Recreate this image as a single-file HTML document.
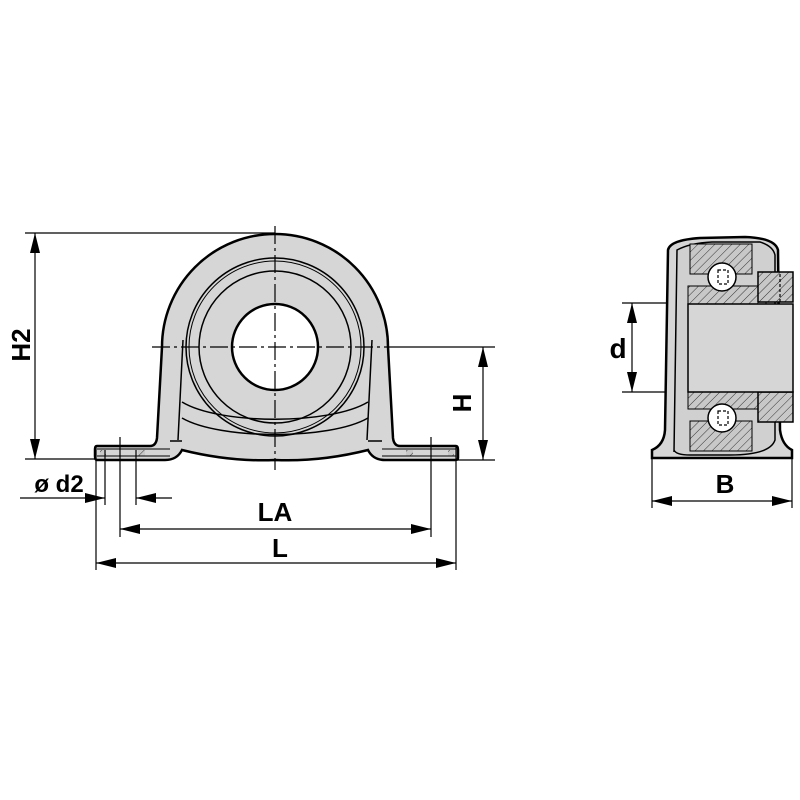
<!DOCTYPE html>
<html><head><style>html,body{margin:0;padding:0;background:#fff}svg{display:block}</style></head>
<body>
<svg width="800" height="800" viewBox="0 0 800 800" xmlns="http://www.w3.org/2000/svg" font-family="Liberation Sans, sans-serif" font-weight="bold">
<defs>
<pattern id="h" width="6" height="6" patternUnits="userSpaceOnUse" patternTransform="rotate(45)"><rect width="6" height="6" fill="#c8c8c8"/><line x1="0" y1="0" x2="0" y2="6" stroke="#333" stroke-width="1"/></pattern>
</defs>
<g stroke="#000" fill="#d6d6d6">
<path d="M97,446 L150,446 Q156,446 157,438 L162,347 A113,113 0 0 1 388,347 L393,438 Q394,446 400,446 L456,446 Q458,446 458,450 L458,458 Q458,460 455,460 L385,460 Q373,460 368,450 Q320,462 275,460 Q230,462 182,450 Q177,460 165,460 L97,460 Q95,460 95,456 L95,449 Q95,446 97,446Z" stroke-width="2.5"/>
<path d="M178,440 L183,340 M372,340 L367,440" fill="none" stroke-width="1.5"/>
<path d="M182,402 C220,425 330,425 368,402" fill="none" stroke-width="1.5"/>
<path d="M182,418 C220,440 330,440 368,418" fill="none" stroke-width="1.5"/>
<path d="M170,441 L182,441 M368,441 L382,441" fill="none" stroke-width="1.5"/>
<circle cx="275" cy="347" r="89" fill="none" stroke-width="1.5"/>
<circle cx="275" cy="347" r="86" fill="none" stroke-width="1"/>
<circle cx="275" cy="347" r="76" fill="none" stroke-width="1.5"/>
<circle cx="275" cy="347" r="43" fill="#fff" stroke-width="2.5"/>
<rect x="100" y="450" width="6" height="6" fill="url(#h)" stroke="none"/>
<rect x="138" y="450" width="7" height="6" fill="url(#h)" stroke="none"/>
<rect x="406" y="450" width="7" height="6" fill="url(#h)" stroke="none"/>
<rect x="448" y="450" width="6" height="6" fill="url(#h)" stroke="none"/>
<line x1="97" y1="449" x2="170" y2="449" stroke-width="1"/><line x1="97" y1="456" x2="170" y2="456" stroke-width="1"/>
<line x1="382" y1="449" x2="456" y2="449" stroke-width="1"/><line x1="382" y1="456" x2="456" y2="456" stroke-width="1"/>
</g>
<g stroke="#000" stroke-width="1.2" fill="none">
<line x1="275" y1="226" x2="275" y2="470" stroke-dasharray="18,4,3,4"/>
<line x1="152" y1="347" x2="385" y2="347" stroke-dasharray="18,4,3,4"/>
<line x1="385" y1="347" x2="495" y2="347"/>
<line x1="25" y1="233" x2="275" y2="233"/>
<line x1="25" y1="459" x2="95" y2="459"/>
<line x1="455" y1="460" x2="495" y2="460"/>
<line x1="35" y1="233" x2="35" y2="459"/>
<line x1="483" y1="347" x2="483" y2="460"/>
<line x1="96" y1="446" x2="96" y2="570"/><line x1="105" y1="450" x2="105" y2="505"/>
<line x1="120" y1="437" x2="120" y2="537"/><line x1="136" y1="450" x2="136" y2="505"/>
<line x1="431" y1="437" x2="431" y2="537"/><line x1="456" y1="446" x2="456" y2="570"/>
<line x1="20" y1="498" x2="105" y2="498"/>
<line x1="172" y1="498" x2="136" y2="498"/>
<line x1="120" y1="529" x2="431" y2="529"/>
<line x1="96" y1="563" x2="456" y2="563"/>
<line x1="622" y1="303" x2="688" y2="303"/>
<line x1="622" y1="392" x2="688" y2="392"/>
<line x1="632" y1="303" x2="632" y2="392"/>
<line x1="652" y1="458" x2="652" y2="508"/>
<line x1="792" y1="458" x2="792" y2="508"/>
<line x1="652" y1="501" x2="792" y2="501"/>
</g>
<g fill="#000">
<path d="M35,233 L30,253 L40,253Z M35,459 L30,439 L40,439Z"/>
<path d="M483,347 L478,367 L488,367Z M483,460 L478,440 L488,440Z"/>
<path d="M105,498 L85,493 L85,503Z M136,498 L156,493 L156,503Z"/>
<path d="M120,529 L140,524 L140,534Z M431,529 L411,524 L411,534Z"/>
<path d="M96,563 L116,558 L116,568Z M456,563 L436,558 L436,568Z"/>
<path d="M632,303 L627,323 L637,323Z M632,392 L627,372 L637,372Z"/>
<path d="M652,501 L672,496 L672,506Z M792,501 L772,496 L772,506Z"/>
</g>
<text x="275" y="521" font-size="26" text-anchor="middle">LA</text>
<text x="280" y="557" font-size="26" text-anchor="middle">L</text>
<text x="59" y="492" font-size="24" text-anchor="middle">ø d2</text>
<text transform="translate(30,345) rotate(-90)" font-size="26" text-anchor="middle">H2</text>
<text transform="translate(471,403) rotate(-90)" font-size="26" text-anchor="middle">H</text>
<g stroke="#000">
<path d="M652,458 L652,450 Q664,445 665,430 L668,250 Q670,240 700,238 L745,237 Q775,238 778,250 L780,430 Q782,445 792,450 L792,458Z" fill="#d6d6d6" stroke-width="2.5"/>
<path d="M674,452 L677,250 Q690,243 712,242 L760,242 Q773,246 775,255 L775,440 Q770,455 730,455 L690,455 Q676,455 674,450Z" fill="#d0d0d0" stroke-width="1.5"/>
<rect x="690" y="244" width="62" height="30" fill="url(#h)" stroke-width="1"/>
<rect x="688" y="286" width="78" height="18" fill="url(#h)" stroke-width="1"/>
<rect x="688" y="391" width="78" height="18" fill="url(#h)" stroke-width="1"/>
<rect x="690" y="421" width="62" height="30" fill="url(#h)" stroke-width="1"/>
<rect x="758" y="272" width="35" height="30" fill="url(#h)" stroke-width="1.5"/>
<rect x="758" y="392" width="35" height="30" fill="url(#h)" stroke-width="1.5"/>
<rect x="688" y="304" width="105" height="88" fill="#d6d6d6" stroke-width="1.5"/>
<circle cx="722" cy="277" r="14" fill="#fff" stroke-width="1.5"/>
<circle cx="722" cy="418" r="14" fill="#fff" stroke-width="1.5"/>
</g>
<g stroke="#000" stroke-width="1.2" fill="none">
<rect x="718" y="270" width="10" height="14" stroke-dasharray="3,2"/>
<rect x="718" y="411" width="10" height="14" stroke-dasharray="3,2"/>
<line x1="780" y1="274" x2="780" y2="302" stroke-dasharray="3,2"/>
</g>
<text x="618" y="358" font-size="28" text-anchor="middle">d</text>
<text x="725" y="493" font-size="26" text-anchor="middle">B</text>
</svg>
</body></html>
